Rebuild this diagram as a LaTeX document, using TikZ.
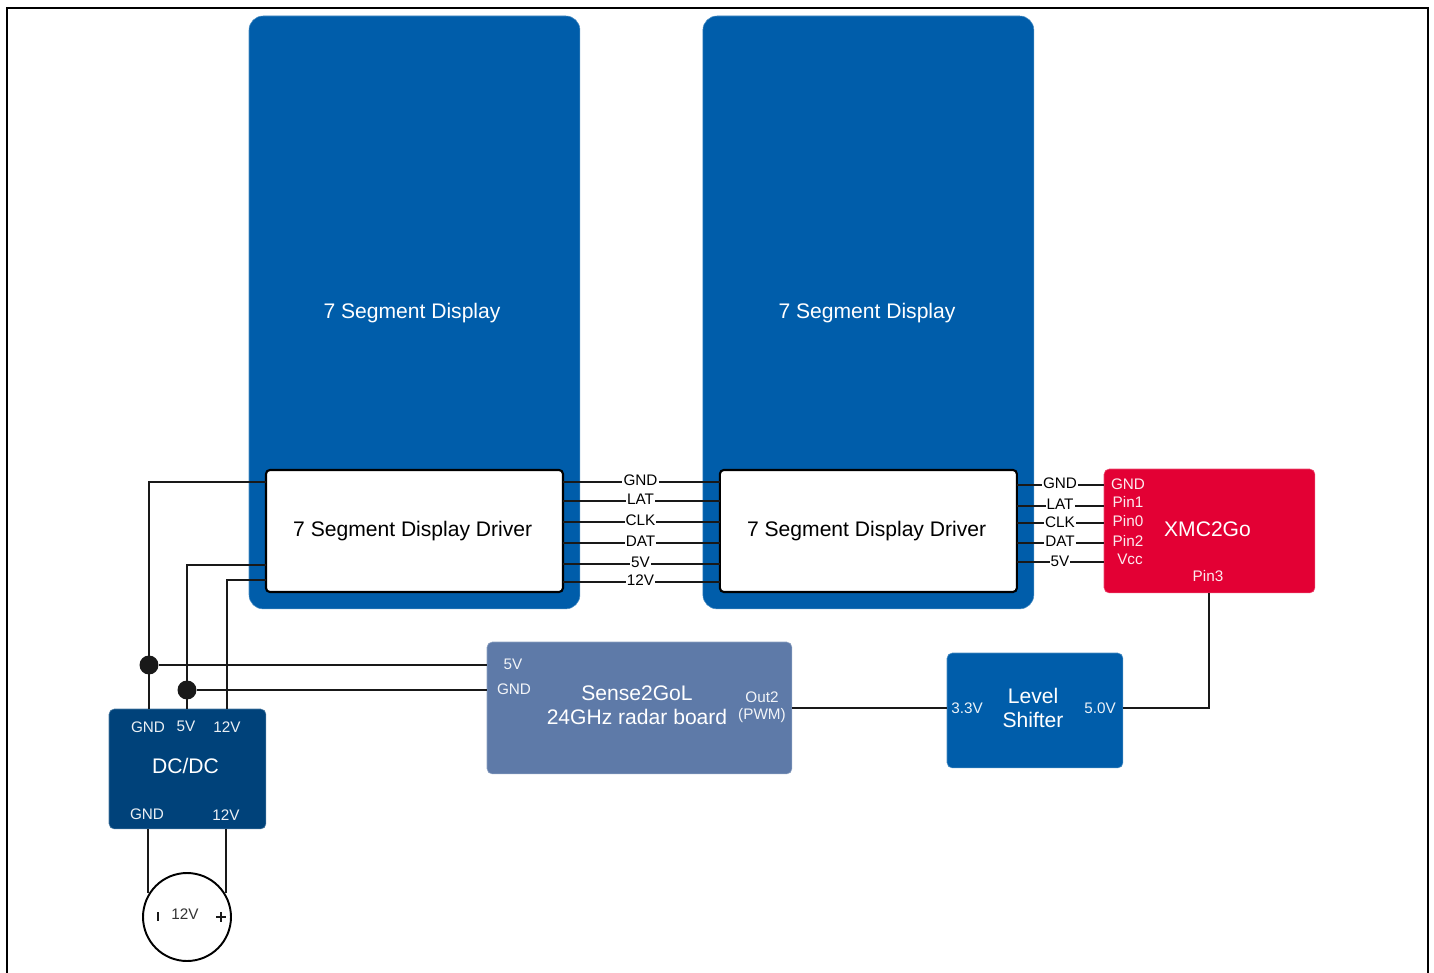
\documentclass[tikz,border=0pt]{standalone}
\usepackage{fontspec}
\setmainfont{Liberation Sans}
\usetikzlibrary{positioning}
\definecolor{dispblue}{RGB}{0,93,170}
\definecolor{dcblue}{RGB}{0,66,122}
\definecolor{senseblue}{RGB}{94,122,168}
\definecolor{xmcred}{RGB}{227,0,52}
\tikzset{
    blk/.style={rectangle, fill=#1, draw=#1!70!white, line width=0.3pt, text=white, align=center,
                outer sep=0pt, inner sep=0pt, font=\fontsize{12}{14.4}\selectfont},
    drv/.style={rectangle, draw=black, fill=white, line width=1.2pt, rounded corners=2.2pt, outer sep=0pt,
                minimum width=5.94cm, minimum height=2.44cm, font=\fontsize{12}{14}\selectfont},
    wire/.style={line width=1.1pt, black!90},
    lbl/.style={font=\fontsize{8.7}{10}\selectfont, fill=white, inner sep=0.6pt},
    pin/.style={font=\fontsize{8.7}{10}\selectfont, text=white, inner sep=0pt, opacity=0.92},
    dot/.style={circle, fill=black!90, minimum size=0.38cm, inner sep=0pt},
}
\begin{document}
\begin{tikzpicture}[x=0.02cm, y=-0.02cm]
    \useasboundingbox (0,0) rectangle (1434,973);
    \draw[line width=1.6pt] (7,973) -- (7,8) -- (1428,8) -- (1428,973);

    % displays and their drivers
    \node[blk=dispblue, minimum width=6.62cm, minimum height=11.86cm, rounded corners=8pt, anchor=north west] (dispA) at (249,16) {};
    \node[blk=dispblue, minimum width=6.62cm, minimum height=11.86cm, rounded corners=8pt, right=2.46cm of dispA] (dispB) {};
    \node[text=white, font=\fontsize{12}{14}\selectfont] (nameA) at (412,313) {7 Segment Display};
    \node[text=white, font=\fontsize{12}{14}\selectfont] (nameB) at (867,313) {7 Segment Display};
    \node[drv, anchor=north west] (drvA) at (266,470) {7 Segment Display Driver\kern0.07cm};
    \node[drv, right=3.14cm of drvA] (drvB) {7 Segment Display Driver\kern0.07cm};

    % boards
    \node[blk=xmcred, minimum width=4.22cm, minimum height=2.48cm, rounded corners=3pt, anchor=north west] (xmc) at (1104,469) {};
    \node[blk=senseblue, minimum width=6.1cm, minimum height=2.64cm, rounded corners=3pt, anchor=north west] (sense) at (487,642) {};
    \node[blk=dispblue, minimum width=3.52cm, minimum height=2.3cm, rounded corners=3pt, anchor=north west] (shifter) at (947,653) {};
    \node[blk=dcblue, minimum width=3.14cm, minimum height=2.4cm, rounded corners=3pt, anchor=north west] (dcdc) at (109,709) {};
    \node[circle, draw=black, fill=white, line width=1.1pt, minimum size=1.76cm, inner sep=0pt] (batt) at (187,917) {};

    % bus between drivers
    \foreach \nm/\wy/\ly in {GND/482/480, LAT/501/499.5, CLK/522/520, DAT/543/541, 5V/564/562.5, 12V/582/580}{
        \draw[wire] (drvA.east |- 0,\wy) -- (drvB.west |- 0,\wy);
        \node[lbl] at (640.5,\ly) {\nm};
    }
    % bus to the XMC board
    \foreach \nm/\wy/\ly in {GND/485/483, LAT/506/504, CLK/523/522, DAT/543/541, 5V/562/561}{
        \draw[wire] (drvB.east |- 0,\wy) -- (xmc.west |- 0,\wy);
        \node[lbl] at (1060,\ly) {\nm};
    }

    % supply wires
    \coordinate (dcG) at (149,709);
    \coordinate (dcF) at (187,709);
    \coordinate (dcT) at (227,709);
    \node[dot] (dotG) at (149,665) {};
    \node[dot] (dotF) at (187,690) {};
    \draw[wire] (drvA.west |- 0,482) -| (dcG);
    \draw[wire] (drvA.west |- 0,565) -| (dcF);
    \draw[wire] (drvA.west |- 0,580) -| (dcT);
    \draw[wire] (dotG) -- (sense.west |- dotG);
    \draw[wire] (dotF) -- (sense.west |- dotF);
    \coordinate (battG) at (148,893);
    \coordinate (battP) at (226,893);
    \draw[wire] (battG |- dcdc.south) -- (battG);
    \draw[wire] (battP |- dcdc.south) -- (battP);

    % signal path
    \draw[wire] (sense.east |- 0,708) -- (shifter.west |- 0,708);
    \draw[wire] (shifter.east |- 0,708) -| (xmc.south -| 1209,0);

    % texts on the boards
    \node[text=white, font=\fontsize{12}{14}\selectfont] (xmcname) at (1207.5,529) {XMC2Go};
    \foreach \nm/\px/\py in {GND/1128/484, Pin1/1128/502, Pin0/1128/521, Pin2/1128/541, Vcc/1130/559, Pin3/1208/576,
                             5V/513/664, GND/514/689, Out2/762/697, (PWM)/762/716, 3.3V/967/708, 5.0V/1100/708,
                             GND/148/727, 5V/186/726, 12V/227/727, GND/147/814, 12V/226/815}{
        \node[pin] at (\px,\py) {\nm};
    }
    \node[text=white, align=center, font=\fontsize{12}{13.7}\selectfont] (sensename) at (637,705) {Sense2GoL\\24GHz radar board};
    \node[text=white, align=center, font=\fontsize{12}{13.7}\selectfont] (shiftname) at (1033,708) {Level\\Shifter};
    \node[text=white, font=\fontsize{12}{14}\selectfont] (dcname) at (185.5,766) {DC/DC};

    % battery marks
    \node[font=\fontsize{8.7}{10}\selectfont, text=black!80] (battv) at (185,914) {12V};
    \draw[wire] (158,912) -- (158,921);
    \draw[wire] (216,917) -- (226,917) (221,912) -- (221,922);
\end{tikzpicture}
\end{document}
